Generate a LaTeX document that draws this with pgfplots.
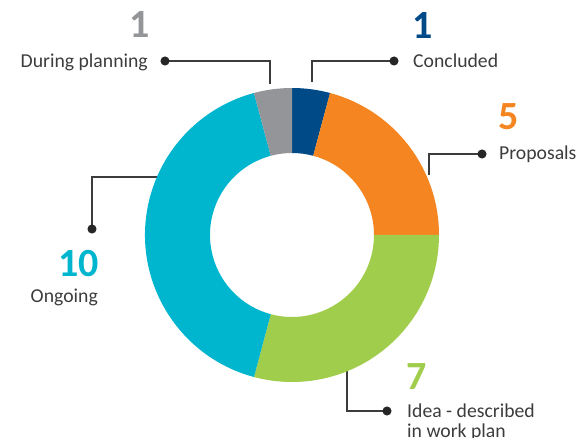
\documentclass[border=0pt]{standalone}
\usepackage{pgfplots}
\pgfplotsset{compat=1.18}
\usepackage{fontspec}
\setmainfont{Carlito}

\definecolor{cConcluded}{RGB}{0,75,135}
\definecolor{cProposals}{RGB}{244,133,32}
\definecolor{cIdea}{RGB}{161,205,76}
\definecolor{cOngoing}{RGB}{0,181,206}
\definecolor{cPlanning}{RGB}{147,149,152}
\definecolor{txt}{RGB}{60,60,60}
\definecolor{lead}{RGB}{60,60,60}

% slices, clockwise from the top
\def\slices{1/cConcluded,5/cProposals,7/cIdea,10/cOngoing,1/cPlanning}

\newcommand\lbl{\fontsize{19.7}{21}\selectfont}
\newcommand\num{\fontsize{40}{40}\selectfont\bfseries}

\begin{document}
\begin{tikzpicture}
\begin{axis}[
  x=1pt, y=1pt,
  xmin=0, xmax=579, ymin=0, ymax=437,
  hide axis, clip=false,
  leader/.style={lead, line width=1.4pt, mark=*, mark size=3.8pt,
    mark indices={3}, mark options={solid, fill=black!85, draw=black!85}},
]
\path (axis cs:0,0) rectangle (axis cs:579,437);

% leader lines
\addplot[leader] coordinates {(312,355) (312,376) (394,376)};
\addplot[leader] coordinates {(429,262) (429,283) (482,283)};
\addplot[leader] coordinates {(270,353) (270,376) (165,376)};
\addplot[leader] coordinates {(164,260) (92,260) (92,208)};
\addplot[leader] coordinates {(347,72) (347,26) (387,26)};

% donut
\def\total{0}
\foreach \v/\c in \slices {\pgfmathsetmacro\t{\total+\v}\xdef\total{\t}}
\def\cum{0}
\foreach \v/\c in \slices {
  \pgfmathsetmacro\a{90-\cum*360/\total}
  \pgfmathsetmacro\b{90-(\cum+\v)*360/\total}
  \edef\wedge{\noexpand\fill[\c, shift={(axis cs:292,202)}] (\a:147pt)
    arc[start angle=\a, end angle=\b, radius=147pt] -- (\b:82pt)
    arc[start angle=\b, end angle=\a, radius=82pt] -- cycle;}
  \wedge
  \pgfmathsetmacro\n{\cum+\v}
  \xdef\cum{\n}
}

% labels
\node[anchor=base west, inner sep=0, cConcluded, font=\num] at (axis cs:412,398) {1};
\node[anchor=base west, inner sep=0, txt, font=\lbl] at (axis cs:413,369) {Concluded};

\node[anchor=base west, inner sep=0, cProposals, font=\num] at (axis cs:498,307) {5};
\node[anchor=base west, inner sep=0, txt, font=\lbl] at (axis cs:499,277) {Proposals};

\node[anchor=base east, inner sep=0, cPlanning, font=\num] at (axis cs:150,399) {1};
\node[anchor=base east, inner sep=0, txt, font=\lbl] at (axis cs:148,369) {During planning};

\node[anchor=base east, inner sep=0, cOngoing, font=\num] at (axis cs:99,160) {10};
\node[anchor=base east, inner sep=0, txt, font=\lbl] at (axis cs:98,134) {Ongoing};

\node[anchor=base west, inner sep=0, cIdea, font=\num] at (axis cs:406,47) {7};
\node[overlay, anchor=base west, inner sep=0, txt, align=left, font=\lbl]
  at (axis cs:407,-1) {Idea - described\\in work plan};
\end{axis}
\end{tikzpicture}
\end{document}
